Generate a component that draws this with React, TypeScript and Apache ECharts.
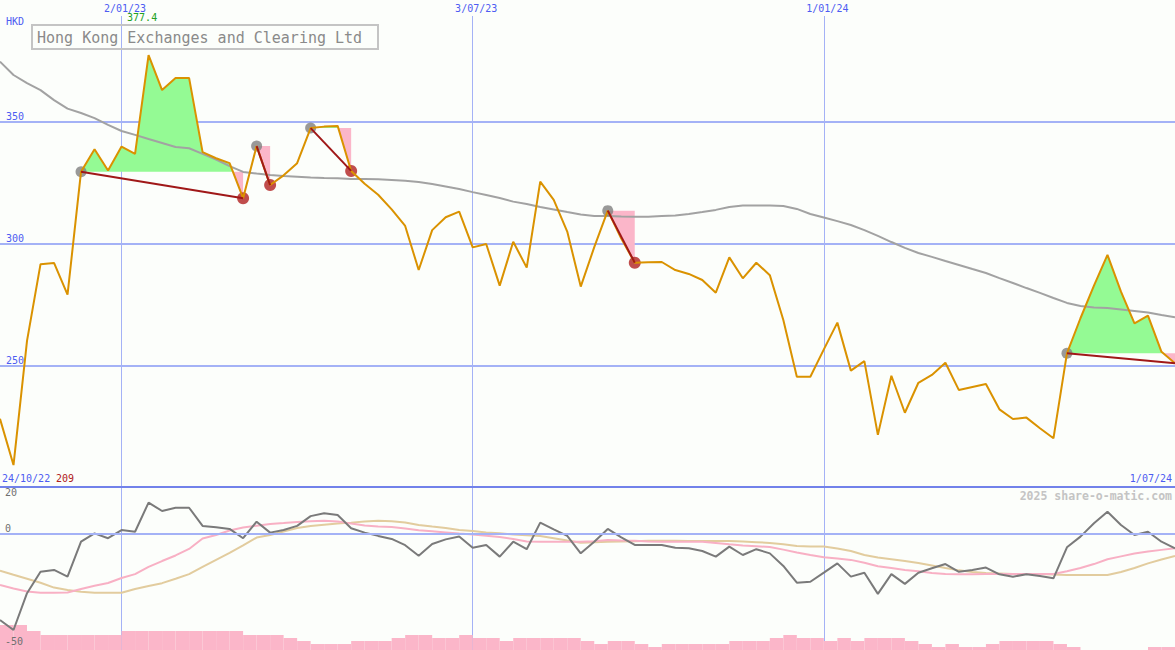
import React, { useEffect, useRef } from "react";
import * as echarts from "echarts";

// ---------- data ----------
const START_UTC = Date.UTC(2022, 9, 31); // first weekly point
const N_POINTS = 88;
const DATES: string[] = Array.from({ length: N_POINTS }, (_, i) => {
  const d = new Date(START_UTC + i * 7 * 86400000);
  return `${d.getUTCDate()}/${String(d.getUTCMonth() + 1).padStart(2, "0")}/${String(d.getUTCFullYear()).slice(2)}`;
});
const TICK_INDEX = [9, 35, 61];
const START_LABEL = "24/10/22";
const END_LABEL = "1/07/24";

const PRICE = [
  228, 209, 260, 291.5, 292, 279, 329.5, 338.7, 330, 339.8,
  336.8, 377.4, 363, 368, 368, 337.5, 335, 333, 318.6, 340,
  324, 328, 333, 347.4, 348, 348.3, 329.8, 324.5, 320, 314,
  307.2, 289.1, 305.5, 310.8, 313.1, 298.4, 299.8, 282.7, 300.7, 290.1,
  325.4, 317.9, 304.9, 282.3, 298.5, 313.5, 302, 292.1, 292.3, 292.4,
  289.1, 287.5, 285, 279.8, 294.3, 285.7, 292.1, 287, 268.6, 245.3,
  245.3, 256.5, 267.5, 247.8, 251.7, 221.4, 245.7, 230.5, 242.8, 246,
  251, 239.8, 241.1, 242.3, 231.9, 227.9, 228.5, 224.1, 220, 254.9,
  269.3, 282.7, 295.3, 280.2, 267.2, 270.4, 255.5, 250.8,
];

const MA40 = [
  374.7, 369.2, 365.9, 363.0, 358.9, 355.4, 353.6, 351.5, 348.7, 346.2,
  344.6, 342.9, 341.3, 339.6, 339.1, 336.8, 334.5, 331.8, 329.4, 328.7,
  328.1, 327.7, 327.4, 327.1, 326.9, 326.8, 326.5, 326.5, 326.4, 326.1,
  325.8, 325.3, 324.4, 323.4, 322.4, 321.1, 319.9, 318.7, 317.2, 316.2,
  315.0, 314.0, 312.9, 311.9, 311.3, 311.3, 311.1, 311.0, 311.0, 311.3,
  311.5, 312.1, 312.9, 313.8, 315.0, 315.6, 315.6, 315.6, 315.4, 314.2,
  312.1, 310.7, 309.2, 307.6, 305.5, 303.1, 300.6, 298.2, 296.1, 294.5,
  292.8, 291.2, 289.5, 287.9, 285.8, 283.8, 281.7, 279.7, 277.6, 275.6,
  274.3, 273.7, 273.5, 272.9, 272.3, 271.7, 270.6, 269.7,
];

// signals: peak (grey dot) -> end (red dot / last point)
const SIGNAL_PEAKS = [6, 19, 23, 45, 79];
const SIGNAL_ENDS = [18, 20, 26, 47, 87];
const TROUGH_DOTS = [18, 20, 26, 47];

// lower panel
const MOMENTUM = [
  -37.1, -41.4, -25.6, -16.4, -15.6, -18.5, -3.5, 0.1, -2.0, 1.5,
  0.8, 13.3, 9.7, 11.1, 11.1, 3.3, 2.7, 2.0, -2.0, 5.1,
  0.4, 1.5, 3.3, 7.5, 8.7, 8.0, 2.3, 0.4, -1.0, -2.3,
  -5.0, -9.5, -4.5, -2.5, -1.3, -6.1, -4.9, -9.9, -3.5, -6.7,
  4.7, 1.8, -1.0, -8.5, -3.5, 2.0, -1.6, -4.9, -4.9, -4.9,
  -6.1, -6.3, -7.5, -9.9, -5.6, -9.2, -6.7, -8.5, -13.9, -21.1,
  -20.7, -16.8, -12.8, -18.5, -16.8, -25.9, -17.4, -21.6, -16.8, -14.9,
  -13.1, -16.4, -15.6, -14.6, -17.5, -18.5, -17.5, -18.2, -19.2, -5.9,
  -1.3, 4.4, 9.4, 3.7, -0.6, 0.8, -3.5, -6.3,
];
const MOM_FAST = [
  -22.1, -23.6, -24.9, -25.4, -25.4, -25.3, -23.8, -22.4, -21.2, -19.1,
  -17.4, -14.3, -11.8, -9.4, -6.6, -2.1, -0.6, 1.3, 2.6, 3.4,
  4.1, 4.5, 5.0, 5.3, 5.5, 5.2, 4.3, 3.5, 3.0, 2.8,
  2.2, 1.4, 1.0, 0.5, 0.0, -0.4, -0.9, -1.5, -2.3, -3.4,
  -3.5, -3.5, -3.5, -3.5, -3.3, -2.8, -3.0, -3.1, -3.4, -3.5,
  -3.5, -3.5, -3.5, -4.0, -4.6, -5.1, -5.4, -5.8, -6.9, -8.1,
  -9.2, -10.2, -10.7, -11.3, -12.5, -14.0, -14.8, -15.6, -16.2, -16.9,
  -17.4, -17.5, -17.5, -17.4, -17.4, -17.4, -17.4, -17.4, -17.4, -16.2,
  -14.8, -13.1, -11.0, -9.8, -8.6, -7.7, -7.0, -6.3,
];
const MOM_SLOW = [
  -15.9, -17.7, -19.4, -21.1, -23.2, -24.2, -25.0, -25.4, -25.4, -25.4,
  -23.8, -22.5, -21.3, -19.4, -17.4, -14.3, -11.3, -8.3, -5.1, -1.7,
  -0.6, 0.9, 2.4, 3.3, 3.8, 4.3, 4.7, 5.2, 5.5, 5.3,
  4.8, 3.7, 3.0, 2.4, 1.5, 1.1, 0.5, 0.1, -0.4, -0.7,
  -1.0, -2.0, -3.0, -3.9, -3.7, -3.5, -3.4, -3.3, -3.1, -3.1,
  -3.1, -3.2, -3.2, -3.2, -3.2, -3.4, -3.7, -4.0, -4.6, -5.3,
  -5.6, -5.6, -6.4, -7.5, -9.2, -10.3, -11.0, -11.8, -12.6, -13.7,
  -14.8, -15.8, -16.5, -16.9, -17.1, -17.4, -17.4, -17.4, -17.6, -17.8,
  -17.8, -17.8, -17.8, -16.5, -14.8, -12.8, -11.1, -9.6,
];
const VOLUME = [
  25, 25, 19, 15, 15, 15, 15, 15, 15, 19,
  19, 19, 19, 19, 19, 19, 19, 19, 15, 15,
  15, 12, 9, 6, 6, 6, 9, 9, 9, 12,
  15, 15, 12, 12, 15, 12, 12, 9, 12, 12,
  12, 12, 12, 9, 6, 9, 9, 6, 3, 6,
  6, 6, 6, 6, 9, 9, 9, 12, 15, 12,
  12, 9, 12, 9, 12, 12, 12, 9, 6, 3,
  6, 3, 3, 6, 9, 9, 9, 9, 6, 3,
  0, 0, 0, 0, 0, 3, 3,
];

// ---------- styles ----------
const BG = "#fcfefb";
const GRID_LIGHT = "#a4b2f6";
const GRID_DARK = "#7282ea";
const LABEL_BLUE = "#4d5cf2";
const ORANGE = "#da9200";
const MA_GRAY = "#a2a2a2";
const GREEN_FILL = "#94fa94";
const PINK_FILL = "#fbb6c9";
const RED_LINE = "#a01818";
const RED_DOT = "#b02020";
const GRAY_DOT = "#808080";
const MONO = '"DejaVu Sans Mono", "Liberation Mono", monospace';

export default function App() {
  const ref = useRef<HTMLDivElement>(null);

  useEffect(() => {
    if (!ref.current) return;
    const chart = echarts.init(ref.current, null, { renderer: "svg" });
    const isTick = (idx: number) => TICK_INDEX.includes(idx);

    const fillRender = (params: any, api: any) => {
      const s = SIGNAL_PEAKS[params.dataIndex];
      const e = SIGNAL_ENDS[params.dataIndex];
      const L = PRICE[s];
      const base = api.coord([s, L]);
      const yL = base[1];
      const up: number[][] = [[base[0], yL]];
      const dn: number[][] = [[base[0], yL]];
      for (let i = s; i <= e; i++) {
        const p = api.coord([i, PRICE[i]]);
        up.push([p[0], Math.min(p[1], yL)]);
        dn.push([p[0], Math.max(p[1], yL)]);
        if (i < e) {
          const a = PRICE[i] - L;
          const b = PRICE[i + 1] - L;
          if (a * b < 0) {
            const q = api.coord([i + 1, PRICE[i + 1]]);
            const t = a / (a - b);
            const xc = p[0] + t * (q[0] - p[0]);
            up.push([xc, yL]);
            dn.push([xc, yL]);
          }
        }
      }
      const last = api.coord([e, L]);
      up.push([last[0], yL]);
      dn.push([last[0], yL]);
      return {
        type: "group",
        children: [
          { type: "polygon", shape: { points: up }, style: { fill: GREEN_FILL } },
          { type: "polygon", shape: { points: dn }, style: { fill: PINK_FILL } },
        ],
      };
    };

    const barRender = (params: any, api: any) => {
      const i = api.value(0);
      const h = api.value(1);
      const p0 = api.coord([i, h]);
      const p1 = api.coord([i + 1, 0]);
      return {
        type: "rect",
        shape: { x: p0[0], y: p0[1], width: p1[0] - p0[0], height: p1[1] - p0[1] },
        style: { fill: PINK_FILL },
      };
    };

    const option: any = {
      animation: false,
      backgroundColor: BG,
      title: {
        text: "Hong Kong Exchanges and Clearing Ltd",
        left: 32,
        top: 25,
        padding: [4, 16, 3, 5],
        borderColor: "#c4c4c4",
        borderWidth: 2,
        textStyle: { fontFamily: MONO, fontSize: 15, fontWeight: "normal", color: "#8a8a8a", lineHeight: 17 },
      },
      grid: [
        { left: 0, right: 0, top: 0, height: 487 },
        { left: 0, right: 0, top: 487, height: 163 },
      ],
      xAxis: [
        {
          type: "category",
          gridIndex: 0,
          data: DATES,
          position: "top",
          boundaryGap: false,
          axisLine: { show: false, onZero: false },
          axisTick: { show: false },
          splitLine: { show: true, interval: (idx: number) => isTick(idx), lineStyle: { color: GRID_LIGHT, width: 1 } },
          axisLabel: {
            show: true,
            inside: true,
            margin: 0,
            interval: (idx: number) => isTick(idx),
            padding: [3, 0, 3, 7],
            backgroundColor: BG,
            color: LABEL_BLUE,
            fontFamily: MONO,
            fontSize: 10,
          },
        },
        {
          type: "category",
          gridIndex: 1,
          data: DATES,
          position: "top",
          boundaryGap: false,
          axisLine: { show: true, onZero: false, lineStyle: { color: GRID_DARK, width: 2 } },
          axisTick: { show: false },
          axisLabel: { show: false },
          splitLine: { show: true, interval: (idx: number) => isTick(idx), lineStyle: { color: GRID_LIGHT, width: 1 } },
        },
      ],
      yAxis: [
        {
          type: "value",
          gridIndex: 0,
          min: 200,
          max: 400,
          interval: 50,
          axisLine: { show: false },
          axisTick: { show: false },
          splitLine: { show: true, showMinLine: false, showMaxLine: false, lineStyle: { color: GRID_LIGHT, width: 2 } },
          axisLabel: {
            inside: true,
            margin: 6,
            verticalAlign: "bottom",
            formatter: (v: number) => (v === 200 || v === 400 ? "" : String(v)),
            color: LABEL_BLUE,
            fontFamily: MONO,
            fontSize: 10,
          },
          name: "HKD",
          nameLocation: "end",
          nameGap: -21,
          nameTextStyle: { align: "left", verticalAlign: "middle", padding: [0, 0, 0, 6], color: LABEL_BLUE, fontFamily: MONO, fontSize: 10 },
        },
        {
          type: "value",
          gridIndex: 1,
          min: -50,
          max: 20,
          interval: 50,
          z: 10,
          axisLine: { show: false },
          axisTick: { show: false },
          splitLine: { show: true, showMinLine: false, showMaxLine: false, lineStyle: { color: GRID_LIGHT, width: 2 } },
          axisLabel: {
            inside: true,
            margin: 5,
            showMinLabel: true,
            showMaxLabel: true,
            verticalAlign: "bottom",
            verticalAlignMaxLabel: "top",
            formatter: (v: number) => (v === -50 ? "{lo|-50}" : String(v)),
            rich: {
              lo: { padding: [0, 0, 4, 0], color: "#707070", fontFamily: MONO, fontSize: 10 },
            },
            color: "#707070",
            fontFamily: MONO,
            fontSize: 10,
          },
        },
        { type: "value", gridIndex: 1, min: 0, max: 163, show: false },
      ],
      graphic: [
        {
          type: "text",
          x: 2,
          y: 478,
          style: { text: START_LABEL, fill: LABEL_BLUE, font: `10px ${MONO}`, verticalAlign: "middle", textVerticalAlign: "middle" },
        },
        {
          type: "text",
          x: 1172,
          y: 478,
          style: { text: END_LABEL, fill: LABEL_BLUE, font: `10px ${MONO}`, align: "right", textAlign: "right", verticalAlign: "middle", textVerticalAlign: "middle" },
        },
        {
          type: "text",
          x: 1172,
          y: 496,
          style: { text: "2025 share-o-matic.com", fill: "#c4c4c4", font: `bold 11.5px ${MONO}`, align: "right", textAlign: "right", verticalAlign: "middle", textVerticalAlign: "middle" },
        },
      ],
      series: [
        {
          type: "custom",
          xAxisIndex: 0,
          yAxisIndex: 0,
          renderItem: fillRender,
          data: SIGNAL_PEAKS.map((i) => [i, PRICE[i]]),
          silent: true,
          z: 1,
        },
        {
          type: "line",
          xAxisIndex: 0,
          yAxisIndex: 0,
          data: MA40,
          symbol: "none",
          lineStyle: { color: MA_GRAY, width: 2 },
          silent: true,
          z: 2,
        },
        {
          type: "scatter",
          xAxisIndex: 0,
          yAxisIndex: 0,
          data: SIGNAL_PEAKS.map((i) => [i, PRICE[i]]),
          symbolSize: 11,
          itemStyle: { color: GRAY_DOT },
          silent: true,
          z: 3,
          markLine: {
            silent: true,
            symbol: ["none", "none"],
            label: { show: false },
            lineStyle: { color: RED_LINE, width: 2, type: "solid" },
            data: SIGNAL_PEAKS.map((s, k) => [
              { coord: [DATES[s], PRICE[s]] },
              { coord: [DATES[SIGNAL_ENDS[k]], PRICE[SIGNAL_ENDS[k]]] },
            ]),
          },
        },
        {
          type: "scatter",
          xAxisIndex: 0,
          yAxisIndex: 0,
          data: TROUGH_DOTS.map((i) => [i, PRICE[i]]),
          symbolSize: 12,
          itemStyle: { color: RED_DOT },
          silent: true,
          z: 3,
        },
        {
          type: "line",
          xAxisIndex: 0,
          yAxisIndex: 0,
          data: PRICE,
          symbol: "none",
          lineStyle: { color: ORANGE, width: 2 },
          silent: true,
          z: 4,
          markPoint: {
            symbol: "circle",
            symbolSize: 0,
            silent: true,
            data: [
              {
                type: "max",
                label: { show: true, formatter: "{c}", position: "inside", align: "left", verticalAlign: "middle", offset: [-21.5, -37.4], color: "#22a022", fontFamily: MONO, fontSize: 10 },
              },
              {
                type: "min",
                label: { show: true, formatter: "{c}", position: "inside", align: "left", verticalAlign: "middle", offset: [42.5, 13.6], color: "#b02020", fontFamily: MONO, fontSize: 10 },
              },
            ],
          },
        },
        {
          type: "custom",
          xAxisIndex: 1,
          yAxisIndex: 2,
          renderItem: barRender,
          data: VOLUME.map((v, i) => [i, v]),
          silent: true,
          z: 1,
        },
        {
          type: "line",
          xAxisIndex: 1,
          yAxisIndex: 1,
          data: MOM_SLOW,
          symbol: "none",
          lineStyle: { color: "#e2cc9e", width: 2 },
          silent: true,
          z: 2,
        },
        {
          type: "line",
          xAxisIndex: 1,
          yAxisIndex: 1,
          data: MOM_FAST,
          symbol: "none",
          lineStyle: { color: "#f8b0c4", width: 2 },
          silent: true,
          z: 2,
        },
        {
          type: "line",
          xAxisIndex: 1,
          yAxisIndex: 1,
          data: MOMENTUM,
          symbol: "none",
          lineStyle: { color: "#7a7a7a", width: 2 },
          silent: true,
          z: 3,
        },
      ],
    };

    chart.setOption(option);
    return () => chart.dispose();
  }, []);

  return (
    <div
      ref={ref}
      style={{ position: "absolute", left: 0, top: 0, width: 1175, height: 650 }}
    />
  );
}
